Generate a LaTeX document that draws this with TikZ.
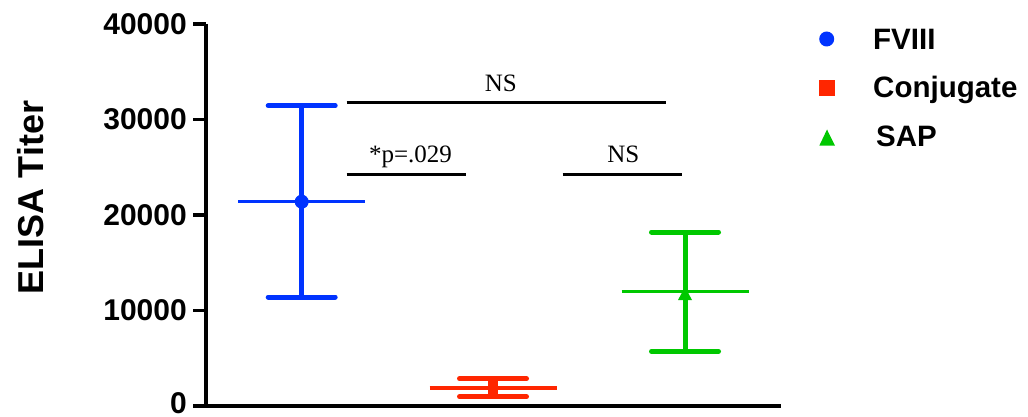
\documentclass[tikz,border=0pt]{standalone}
\usepackage{fontspec}
\newfontfamily\lsans{Liberation Sans}
\newfontfamily\lserif{Liberation Serif}
\usetikzlibrary{shapes.geometric}
\definecolor{cblue}{RGB}{0,51,255}
\definecolor{cred}{RGB}{255,38,0}
\definecolor{cgreen}{RGB}{0,200,0}
\tikzset{
  axisline/.style={line width=3.6pt,black},
  ticklabel/.style={anchor=east,inner sep=0pt,font=\lsans\bfseries\fontsize{30}{34}\selectfont},
  legtext/.style={anchor=base west,inner sep=0pt,font=\lsans\bfseries\fontsize{29.5}{34}\selectfont},
  sigline/.style={line width=2.5pt,black},
  sigtext/.style={anchor=base,inner sep=0pt,font=\lserif\fontsize{25}{30}\selectfont},
  errbar/.style={line width=5pt,line cap=round},
  meanline/.style={line width=3.2pt},
}
\begin{document}
\begin{tikzpicture}[x=1pt,y=-1pt]
\useasboundingbox (0,0) rectangle (1028,417);
% axes
\coordinate (ytop) at (206,24);
\coordinate (origin) at (206,406);
\coordinate (xend) at (780.7,406);
\draw[axisline] (ytop) -- (origin) -- (xend);
\foreach \v/\yy/\ly in {0/406/403.5,10000/310.5/310.5,20000/215/215,30000/119.5/119.5,40000/24/24}{
  \draw[line width=3.4pt] (193,\yy) coordinate (t\v) -- (206,\yy);
  \node[ticklabel] (l\v) at (187,\ly) {\v};
}
\node[rotate=90,inner sep=0pt,font=\lsans\bfseries\fontsize{36}{40}\selectfont] (ylab) at (30.5,197.5) {ELISA Titer};
% error bars: x, top, mean, bottom, color, name
\foreach \cx/\tp/\mn/\bt/\col/\nm in {301.7/105.7/201.7/297/cblue/fviii, 493/378.7/388/396.7/cred/conj, 685/232/291.3/351.3/cgreen/sap}{
  \coordinate (\nm-top) at (\cx,\tp);
  \coordinate (\nm-bot) at (\cx,\bt);
  \coordinate (\nm-mean) at (\cx,\mn);
  \draw[errbar,\col,line cap=butt] (\nm-top) -- (\nm-bot);
  \draw[errbar,\col] ([xshift=-33.5pt]\nm-top) -- ([xshift=33.5pt]\nm-top);
  \draw[errbar,\col] ([xshift=-33.5pt]\nm-bot) -- ([xshift=33.5pt]\nm-bot);
  \draw[meanline,\col] ([xshift=-63.5pt]\nm-mean) -- ([xshift=63.5pt]\nm-mean);
}
\node[circle,fill=cblue,inner sep=0pt,minimum size=14pt] (m-fviii) at (fviii-mean) {};
\node[rectangle,fill=cred,inner sep=0pt,minimum width=10pt,minimum height=17pt] (m-conj) at (conj-mean) {};
\fill[cgreen] (678,300) -- (692,300) -- (685,287) -- cycle;
% significance
\coordinate (s1a) at (346.7,102.3); \coordinate (s1b) at (666,102.3);
\coordinate (s2a) at (346.7,174.3); \coordinate (s2b) at (466,174.3);
\coordinate (s3a) at (562.7,174.3); \coordinate (s3b) at (682,174.3);
\draw[sigline] (s1a) -- (s1b);
\draw[sigline] (s2a) -- (s2b);
\draw[sigline] (s3a) -- (s3b);
\node[sigtext] (ns1) at (500.8,91.7) {NS};
\node[sigtext] (pval) at (410.5,162.7) {*p=.029};
\node[sigtext] (ns2) at (623.3,162.7) {NS};
% legend
\node[circle,fill=cblue,inner sep=0pt,minimum size=15pt] (k1) at (826.7,39) {};
\node[rectangle,fill=cred,inner sep=0pt,minimum size=16pt] (k2) at (827,88) {};
\fill[cgreen] (819.3,145.7) -- (835,145.7) -- (827,129.5) -- cycle;
\node[legtext] (t1) at (873,49.3) {FVIII};
\node[legtext] (t2) at (873,98) {Conjugate};
\node[legtext] (t3) at (876,146.7) {SAP};
\end{tikzpicture}
\end{document}
